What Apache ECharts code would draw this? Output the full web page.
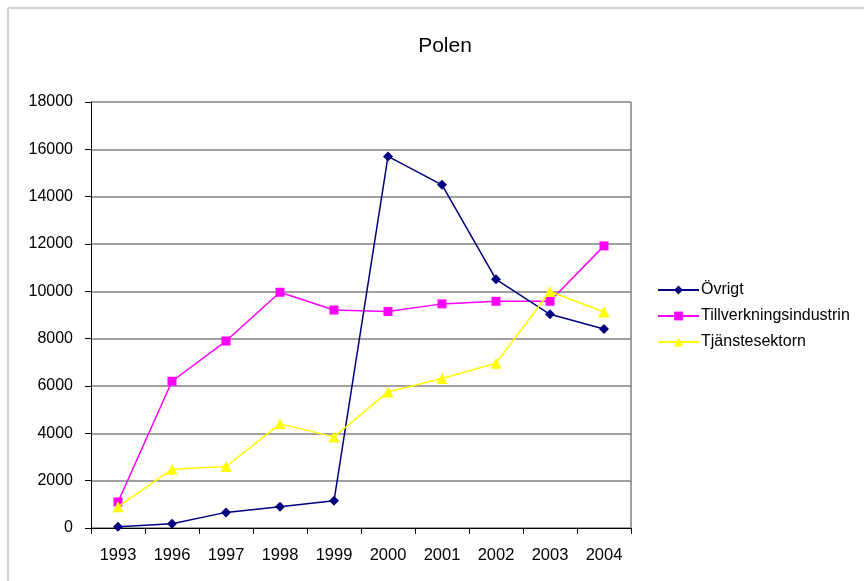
<!DOCTYPE html>
<html>
<head>
<meta charset="utf-8">
<script src="https://cdn.jsdelivr.net/npm/echarts@6/dist/echarts.min.js"></script>
<style>
  html, body { margin: 0; padding: 0; background: #fff; }
  #chart { width: 864px; height: 581px; }
</style>
</head>
<body>
<div id="chart"></div>
<script>
const years = ["1993", "1996", "1997", "1998", "1999", "2000", "2001", "2002", "2003", "2004"];
const ovrigt = [50, 180, 660, 900, 1150, 15700, 14500, 10510, 9030, 8410];
const tillverkning = [1100, 6200, 7900, 9960, 9210, 9150, 9470, 9580, 9580, 11920];
const tjanste = [900, 2480, 2600, 4400, 3850, 5750, 6320, 6960, 9990, 9130];

const font = "Liberation Sans, Arial, sans-serif";

const myChart = echarts.init(document.getElementById("chart"));

const options = {
  backgroundColor: "#fff",
  animation: false,
  title: {
    text: "Polen",
    left: 440,
    top: 31,
    textAlign: "center",
    textStyle: { fontFamily: font, fontSize: 21, fontWeight: "normal", color: "#000" },
  },
  legend: {
    orient: "vertical",
    left: 652,
    top: 277,
    itemWidth: 41,
    itemHeight: 11,
    itemGap: 10,
    textStyle: { fontFamily: font, fontSize: 16, color: "#000", padding: [0, 0, 0, -3] },
    data: ["Övrigt", "Tillverkningsindustrin", "Tjänstesektorn"],
  },
  grid: { left: 91, right: 233, top: 102, bottom: 53, containLabel: false },
  xAxis: {
    type: "category",
    data: years,
    boundaryGap: true,
    axisLine: { lineStyle: { color: "#000", width: 1 } },
    axisTick: { show: true, length: 6, lineStyle: { color: "#000" } },
    axisLabel: { fontFamily: font, fontSize: 16.5, color: "#000", margin: 19 },
    splitLine: { show: false },
  },
  yAxis: {
    type: "value",
    min: 0,
    max: 18000,
    interval: 2000,
    axisLine: { show: true, lineStyle: { color: "#000", width: 1 } },
    axisTick: { show: true, length: 6, lineStyle: { color: "#000" } },
    axisLabel: {
      fontFamily: font,
      fontSize: 16,
      color: "#000",
      margin: 18,
      formatter: (v) => String(v),
    },
    splitLine: { show: true, lineStyle: { color: "#808080", width: 1.5 } },
  },
  graphic: [
    // outer chart frame (only left and top visible)
    { type: "line", shape: { x1: 8, y1: 8, x2: 864, y2: 8 }, style: { stroke: "#d0d0d0", lineWidth: 2 } },
    { type: "line", shape: { x1: 8, y1: 8, x2: 8, y2: 581 }, style: { stroke: "#d0d0d0", lineWidth: 2 } },
    // plot area right border
    { type: "line", shape: { x1: 631, y1: 102, x2: 631, y2: 528 }, style: { stroke: "#808080", lineWidth: 1.5 } },
  ],
  series: [
    {
      name: "Övrigt",
      type: "line",
      data: ovrigt,
      symbol: "diamond",
      symbolSize: 10,
      color: "#000080",
      lineStyle: { width: 1.5, color: "#000080" },
      itemStyle: { color: "#000080" },
      z: 4,
    },
    {
      name: "Tillverkningsindustrin",
      type: "line",
      data: tillverkning,
      symbol: "rect",
      symbolSize: 9,
      color: "#FF00FF",
      lineStyle: { width: 1.5, color: "#FF00FF" },
      itemStyle: { color: "#FF00FF" },
      z: 3,
    },
    {
      name: "Tjänstesektorn",
      type: "line",
      data: tjanste,
      symbol: "triangle",
      symbolSize: 11,
      color: "#FFFF00",
      lineStyle: { width: 1.5, color: "#FFFF00" },
      itemStyle: { color: "#FFFF00" },
      z: 5,
    },
  ],
};

myChart.setOption(options);
</script>
</body>
</html>
